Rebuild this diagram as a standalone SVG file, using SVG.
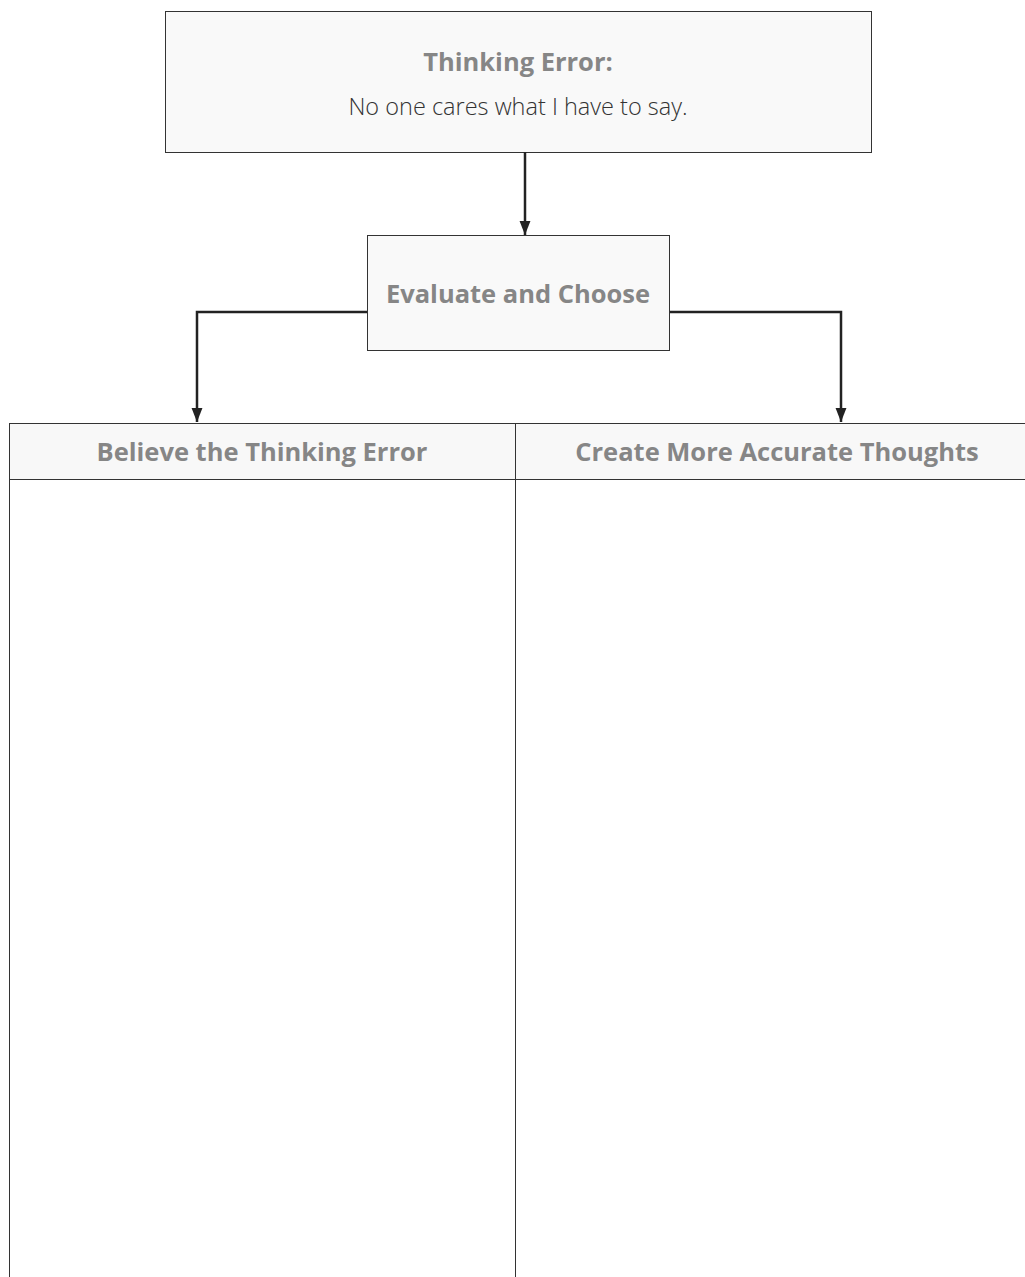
<svg xmlns="http://www.w3.org/2000/svg" width="1025" height="1277" viewBox="0 0 1025 1277">
<style>
.box{fill:#f9f9f9;stroke:#333;stroke-width:1}
.cell{fill:#fff;stroke:#333;stroke-width:1}
.hdr{fill:#f8f8f8;stroke:#333;stroke-width:1}
.b{font-family:"Open Sans","Liberation Sans",sans-serif;font-weight:bold;fill:#868686;text-anchor:middle}
.n{font-family:"Open Sans","Liberation Sans",sans-serif;font-weight:300;fill:#333;text-anchor:middle}
.c{fill:none;stroke:#222;stroke-width:2.5}
</style>
<defs>
<marker id="ah" markerWidth="14" markerHeight="14" refX="18" refY="7" orient="auto" markerUnits="userSpaceOnUse" viewBox="0 0 18 14">
<path d="M0,0 L18,7 L0,14 Z" fill="#222"/>
</marker>
</defs>
<rect width="1025" height="1277" fill="#fff"/>
<g id="thinking-error">
<rect class="box" x="165.5" y="11.5" width="706" height="141"/>
<text class="b" x="518" y="71" font-size="25.5">Thinking Error:</text>
<text class="n" x="518" y="115" font-size="23.5">No one cares what I have to say.</text>
</g>
<g id="evaluate">
<rect class="box" x="367.5" y="235.5" width="302" height="115"/>
<text class="b" x="518" y="303" font-size="25.5">Evaluate and Choose</text>
</g>
<g id="table">
<rect class="cell" x="9.5" y="423.5" width="506" height="900"/>
<rect class="cell" x="515.5" y="423.5" width="525" height="900"/>
<rect class="hdr" x="9.5" y="423.5" width="506" height="56"/>
<rect class="hdr" x="515.5" y="423.5" width="525" height="56"/>
<text class="b" x="262" y="461" font-size="25.5">Believe the Thinking Error</text>
<text class="b" x="777" y="461" font-size="25.5">Create More Accurate Thoughts</text>
</g>
<g id="connectors">
<path class="c" d="M525,152 L525,235" marker-end="url(#ah)"/>
<path class="c" d="M367,312 L197,312 L197,422" marker-end="url(#ah)"/>
<path class="c" d="M670,312 L841,312 L841,422" marker-end="url(#ah)"/>
</g>
</svg>
